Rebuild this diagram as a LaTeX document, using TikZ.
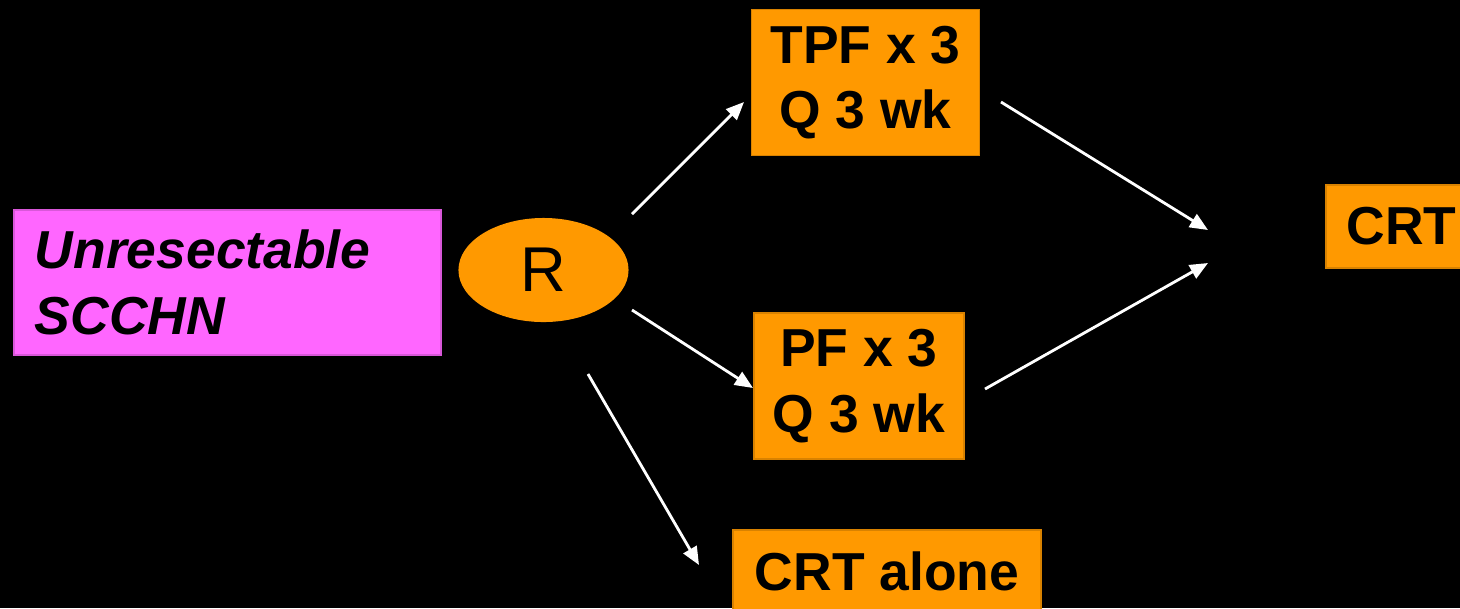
\documentclass[tikz,border=0pt]{standalone}
\usepackage{fontspec}
\setmainfont{Liberation Sans}
\usepackage{tikz}
\usetikzlibrary{arrows.meta,shapes.geometric}
\definecolor{armorange}{HTML}{FF9900}
\definecolor{pinkbox}{HTML}{FF66FF}

\begin{document}
\begin{tikzpicture}[x=0.01cm,y=-0.01cm,
		armbox/.style={fill=armorange,draw=armorange!85!black,line width=0.4pt,align=center,inner sep=0pt,
			font=\fontsize{15.2}{18.6}\selectfont\bfseries},
		arrowline/.style={white,line width=0.8pt,-{Triangle[length=0.18cm,width=0.15cm]}}]
			\useasboundingbox (0,0) rectangle (1460,608);
			\fill [black] (0,0) rectangle (1460,608);
			\clip (0,0) rectangle (1460,608);
			% arrow ends
			\coordinate (r1) at (632,214);
			\coordinate (r2) at (632,310);
			\coordinate (r3) at (588,374);
			\coordinate (tpfin) at (744,102);
			\coordinate (pfin) at (753,388);
			\coordinate (alonein) at (699,565);
			\coordinate (tpfout) at (1001,102);
			\coordinate (pfout) at (985,389);
			\coordinate (crtin1) at (1208,230);
			\coordinate (crtin2) at (1208,263);
			\draw [arrowline] (r1) -- (tpfin);
			\draw [arrowline] (r2) -- (pfin);
			\draw [arrowline] (r3) -- (alonein);
			\draw [arrowline] (tpfout) -- (crtin1);
			\draw [arrowline] (pfout) -- (crtin2);
			% boxes
			\node [fill=pinkbox,draw=pinkbox!85!black,line width=0.4pt,minimum width=4.27cm,minimum height=1.45cm,
				text width=3.85cm,align=left,inner sep=0pt,font=\fontsize{15.2}{18.6}\selectfont\bfseries\itshape]
				(patients) at (227.5,282.5) {Unresectable\\SCCHN};
			\node [ellipse,fill=armorange,minimum width=1.70cm,minimum height=1.04cm,inner sep=0pt,
				font=\fontsize{18}{20}\selectfont] (R) at (543.5,270) {R};
			\node [armbox,minimum width=2.28cm,minimum height=1.46cm] (tpf) at (865.5,82.5) {TPF x 3\\Q 3 wk};
			\node [armbox,minimum width=2.10cm,minimum height=1.46cm] (pf) at (859,386) {PF x 3\\Q 3 wk};
			\node [armbox,minimum width=3.08cm,minimum height=0.83cm] (alone) at (887,571.5) {CRT alone};
			\node [armbox,minimum width=1.51cm,minimum height=0.83cm] (crt) at (1401.5,226.5) {CRT};
\end{tikzpicture}
\end{document}
